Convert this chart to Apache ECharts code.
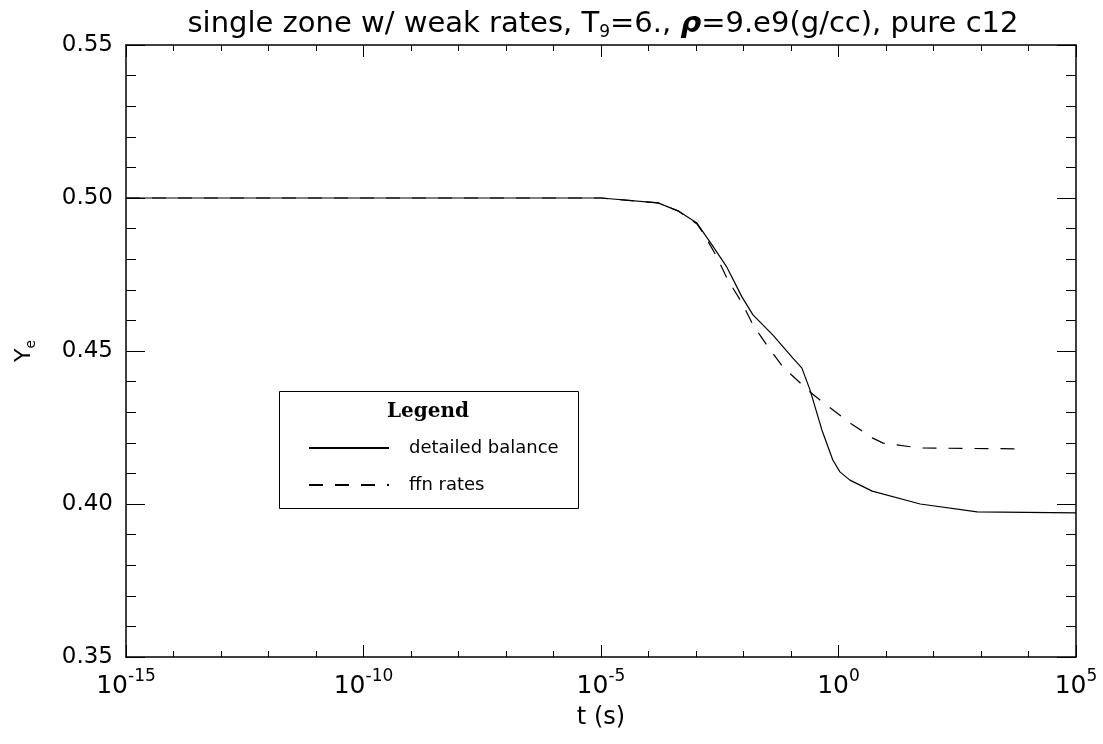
<!DOCTYPE html>
<html>
<head>
<meta charset="utf-8">
<script src="https://cdn.jsdelivr.net/npm/echarts@6/dist/echarts.min.js"></script>
<style>
html,body{margin:0;padding:0;background:#fff;}
#chart{width:1103px;height:744px;}
</style>
</head>
<body>
<div id="chart"></div>
<script>
// log10(t) sample points and Y_e values
const solidLogT = [-15, -5, -3.8, -3.38, -2.98, -2.66, -2.35, -2.03, -1.80, -1.38, -0.96, -0.77, -0.60, -0.35, -0.12, 0.03, 0.24, 0.71, 1.72, 2.92, 5.0];
const solidYe   = [0.500, 0.500, 0.4984, 0.4958, 0.4918, 0.4846, 0.4774, 0.4676, 0.4618, 0.4552, 0.4477, 0.4444, 0.4373, 0.4242, 0.4144, 0.4105, 0.4078, 0.4042, 0.4000, 0.3974, 0.3971];
const dashLogT  = [-15, -5, -3.8, -3.38, -2.98, -2.85, -2.56, -2.33, -2.03, -1.80, -1.48, -1.17, -0.60, -0.39, 0.24, 0.71, 0.94, 1.72, 3.88];
const dashYe    = [0.500, 0.500, 0.4984, 0.4958, 0.4915, 0.4886, 0.4807, 0.4732, 0.4657, 0.4585, 0.4513, 0.4448, 0.4366, 0.4340, 0.4265, 0.4216, 0.4199, 0.4183, 0.4180];
const seriesNames = ['detailed balance', 'ffn rates'];
const xTickExponents = [-15, -10, -5, 0, 5];
const yTickLabels = ['0.35', '0.40', '0.45', '0.50', '0.55'];
const titleText = 'single zone w/ weak rates, T{sub|9}=6., {rho|ρ}=9.e9(g/cc), pure c12';

const FONT = 'DejaVu Sans';
const chart = echarts.init(document.getElementById('chart'), null, {renderer: 'canvas'});

const zip = (a, b) => a.map((v, i) => [v, b[i]]);

const baseX = {
  type: 'value', min: -15, max: 5, interval: 5,
  axisLine: {show: true, onZero: false, lineStyle: {color: '#000', width: 1.5}},
  splitLine: {show: false},
  axisTick: {show: true, inside: true, length: 12, lineStyle: {color: '#000', width: 1}},
  minorTick: {show: true, splitNumber: 5, length: 6, lineStyle: {color: '#000', width: 1}},
};
const baseY = {
  type: 'value', min: 0.35, max: 0.55, interval: 0.05,
  axisLine: {show: true, onZero: false, lineStyle: {color: '#000', width: 1.5}},
  splitLine: {show: false},
  axisTick: {show: true, inside: true, length: 19, lineStyle: {color: '#000', width: 1}},
  minorTick: {show: true, splitNumber: 5, length: 10, lineStyle: {color: '#000', width: 1}},
};

const option = {
  backgroundColor: '#fff',
  animation: false,
  title: {
    text: titleText,
    left: 598, top: 2, textAlign: 'center',
    textStyle: {
      fontFamily: FONT, fontSize: 29, fontWeight: 'normal', color: '#000',
      rich: {
        sub: {fontFamily: FONT, fontSize: 17, color: '#000', verticalAlign: 'bottom', lineHeight: 17},
        rho: {fontFamily: FONT, fontSize: 29, fontStyle: 'italic', fontWeight: 'bold', color: '#000'}
      },
      lineHeight: 34
    }
  },
  grid: {left: 126, right: 27, top: 45, bottom: 87, containLabel: false},
  xAxis: [
    Object.assign({}, baseX, {
      position: 'bottom',
      name: 't (s)', nameLocation: 'middle', nameGap: 49,
      nameTextStyle: {fontFamily: FONT, fontSize: 24, color: '#000'},
      axisLabel: {
        margin: 11, color: '#000',
        formatter: v => xTickExponents.indexOf(v) >= 0 ? '{b|10}{s|' + v + '}' : '',
        rich: {
          b: {fontFamily: FONT, fontSize: 25, color: '#000', lineHeight: 36},
          s: {fontFamily: FONT, fontSize: 17, color: '#000', verticalAlign: 'top'}
        }
      }
    }),
    Object.assign({}, baseX, {position: 'top', axisLabel: {show: false}})
  ],
  yAxis: [
    Object.assign({}, baseY, {
      position: 'left',
      name: '{m|Y}{e|e}', nameLocation: 'middle', nameGap: 88, nameRotate: 90,
      nameTextStyle: {
        rich: {
          m: {fontFamily: FONT, fontSize: 22, color: '#000', lineHeight: 28},
          e: {fontFamily: FONT, fontSize: 14, color: '#000', verticalAlign: 'bottom'}
        }
      },
      axisLabel: {
        margin: 13, color: '#000', fontFamily: FONT, fontSize: 23,
        formatter: v => {
          const s = v.toFixed(2);
          return yTickLabels.indexOf(s) >= 0 ? s : '';
        }
      }
    }),
    Object.assign({}, baseY, {position: 'right', axisLabel: {show: false}})
  ],
  legend: {
    left: 308, top: 439, orient: 'vertical', padding: 0,
    itemWidth: 80, itemHeight: 14, itemGap: 19,
    data: seriesNames,
    itemStyle: {opacity: 0},
    textStyle: {fontFamily: FONT, fontSize: 18, color: '#000', padding: [0, 0, 0, 15]}
  },
  graphic: [
    {type: 'rect', left: 277, top: 389, shape: {width: 299, height: 117},
     style: {fill: 'none', stroke: '#000', lineWidth: 1}, z: 100},
    {type: 'text', left: 387, top: 402,
     style: {text: 'Legend', font: 'bold 20px "DejaVu Serif"', fill: '#000'}, z: 100}
  ],
  series: [
    {name: seriesNames[0], type: 'line', data: zip(solidLogT, solidYe), xAxisIndex: 0, yAxisIndex: 0,
     symbol: 'none', showSymbol: false, lineStyle: {color: '#000', width: 1.2, type: 'solid'}, itemStyle: {color: '#000'}},
    {name: seriesNames[1], type: 'line', data: zip(dashLogT, dashYe), xAxisIndex: 0, yAxisIndex: 0,
     symbol: 'none', showSymbol: false, lineStyle: {color: '#000', width: 1.2, type: [14, 12]}, itemStyle: {color: '#000'}}
  ]
};
chart.setOption(option);
</script>
</body>
</html>
